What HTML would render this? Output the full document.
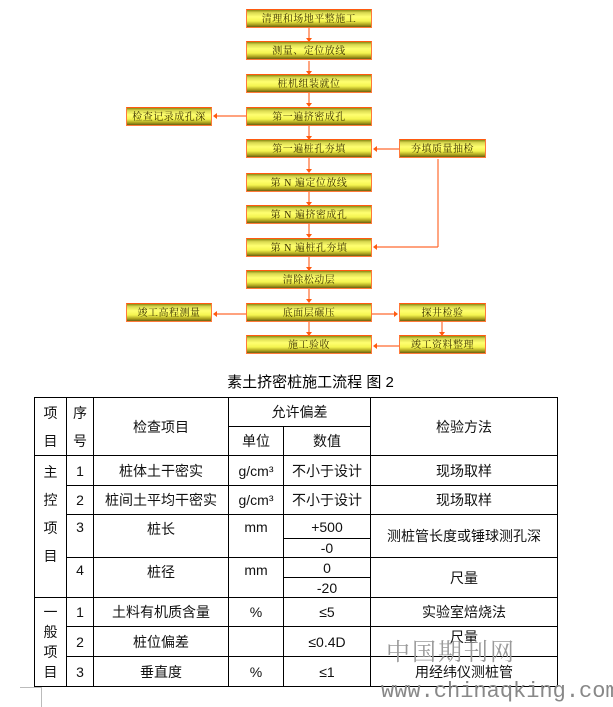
<!DOCTYPE html>
<html><head><meta charset="utf-8"><style>
*{margin:0;padding:0;box-sizing:border-box}
body{width:613px;height:704px;background:#fff;position:relative;overflow:hidden;font-family:"Liberation Sans","Noto Sans CJK SC",sans-serif}
.b{position:absolute;height:19px;border:1px solid #ff7a3a;border-top-color:#ff5a10;
background:linear-gradient(#8a8a10 0%,#d8d850 15%,#ffff70 40%,#f4f450 65%,#b0a820 85%,#6a6010 100%);
font-family:"Liberation Serif","Noto Serif CJK SC",serif;font-size:10px;color:#3a3000;text-align:center;line-height:19px;letter-spacing:0.5px}
.m{left:246px;width:126px}
.l{left:126px;width:86px}
.r{left:399px;width:87px}
table{position:absolute;left:34px;top:397px;border-collapse:collapse;font-size:14px;color:#111}
td{border:1px solid #000;text-align:center;padding:0;font-family:"Liberation Sans","Noto Sans CJK SC",sans-serif}
.cap{position:absolute;left:0;width:613px;top:371px;text-align:center;font-size:15px;color:#000;padding-left:8px}
</style></head><body>
<svg width="613" height="370" style="position:absolute;left:0;top:0" stroke="#ff6a30" fill="#ff5a10">
<g stroke-width="1.2">
<line x1="309" y1="28" x2="309" y2="39"/><line x1="309" y1="61" x2="309" y2="72"/>
<line x1="309" y1="93" x2="309" y2="104"/><line x1="309" y1="126" x2="309" y2="137"/>
<line x1="309" y1="158" x2="309" y2="170"/><line x1="309" y1="192" x2="309" y2="203"/>
<line x1="309" y1="224" x2="309" y2="235"/><line x1="309" y1="257" x2="309" y2="268"/>
<line x1="309" y1="289" x2="309" y2="300"/><line x1="309" y1="322" x2="309" y2="333"/>
<line x1="246" y1="116" x2="216" y2="116"/>
<line x1="399" y1="149" x2="376" y2="149"/>
<line x1="438" y1="159" x2="438" y2="247"/><line x1="438" y1="247" x2="376" y2="247"/>
<line x1="246" y1="314" x2="216" y2="314"/>
<line x1="372" y1="314" x2="395" y2="314"/>
<line x1="442" y1="322" x2="442" y2="333"/>
<line x1="399" y1="346" x2="376" y2="346"/>
</g>
<g stroke="none">
<path d="M306,38h6l-3,4z"/><path d="M306,71h6l-3,4z"/><path d="M306,103h6l-3,4z"/><path d="M306,136h6l-3,4z"/>
<path d="M306,169h6l-3,4z"/><path d="M306,202h6l-3,4z"/><path d="M306,234h6l-3,4z"/><path d="M306,267h6l-3,4z"/>
<path d="M306,299h6l-3,4z"/><path d="M306,332h6l-3,4z"/><path d="M439,332h6l-3,4z"/>
<path d="M217,113v6l-4,-3z"/><path d="M377,146v6l-4,-3z"/><path d="M377,244v6l-4,-3z"/>
<path d="M217,311v6l-4,-3z"/><path d="M394,311v6l4,-3z"/><path d="M377,343v6l-4,-3z"/>
</g>
</svg>
<div class="b m" style="top:9px">清理和场地平整施工</div>
<div class="b m" style="top:41px">测量、定位放线</div>
<div class="b m" style="top:74px">桩机组装就位</div>
<div class="b m" style="top:107px">第一遍挤密成孔</div>
<div class="b l" style="top:107px">检查记录成孔深</div>
<div class="b m" style="top:139px">第一遍桩孔夯填</div>
<div class="b r" style="top:139px">夯填质量抽检</div>
<div class="b m" style="top:173px">第 N 遍定位放线</div>
<div class="b m" style="top:205px">第 N 遍挤密成孔</div>
<div class="b m" style="top:238px">第 N 遍桩孔夯填</div>
<div class="b m" style="top:270px">清除松动层</div>
<div class="b m" style="top:303px">底面层碾压</div>
<div class="b l" style="top:303px">竣工高程测量</div>
<div class="b r" style="top:303px">探井检验</div>
<div class="b m" style="top:335px">施工验收</div>
<div class="b r" style="top:335px">竣工资料整理</div>
<div class="cap">素土挤密桩施工流程 图 2</div>
<table>
<colgroup><col style="width:32px"><col style="width:27px"><col style="width:135px"><col style="width:55px"><col style="width:87px"><col style="width:187px"></colgroup>
<tr style="height:29px"><td rowspan="2" style="line-height:28px">项<br>目</td><td rowspan="2" style="line-height:28px">序<br>号</td><td rowspan="2">检查项目</td><td colspan="2">允许偏差</td><td rowspan="2">检验方法</td></tr>
<tr style="height:29px"><td>单位</td><td>数值</td></tr>
<tr style="height:30px"><td rowspan="6" style="line-height:28px;vertical-align:top;padding-top:2px">主<br>控<br>项<br>目</td><td>1</td><td>桩体土干密实</td><td>g/cm³</td><td>不小于设计</td><td>现场取样</td></tr>
<tr style="height:29px"><td>2</td><td>桩间土平均干密实</td><td>g/cm³</td><td>不小于设计</td><td>现场取样</td></tr>
<tr style="height:24px"><td rowspan="2" style="vertical-align:top;padding-top:4px">3</td><td rowspan="2" style="vertical-align:top;padding-top:4px">桩长</td><td rowspan="2" style="vertical-align:top;padding-top:4px">mm</td><td>+500</td><td rowspan="2">测桩管长度或锤球测孔深</td></tr>
<tr style="height:19px"><td>-0</td></tr>
<tr style="height:20px"><td rowspan="2" style="vertical-align:top;padding-top:4px">4</td><td rowspan="2" style="vertical-align:top;padding-top:4px">桩径</td><td rowspan="2" style="vertical-align:top;padding-top:4px">mm</td><td>0</td><td rowspan="2">尺量</td></tr>
<tr style="height:20px"><td>-20</td></tr>
<tr style="height:29px"><td rowspan="3" style="line-height:20px">一<br>般<br>项<br>目</td><td>1</td><td>土料有机质含量</td><td>%</td><td>≤5</td><td>实验室焙烧法</td></tr>
<tr style="height:30px"><td>2</td><td>桩位偏差</td><td></td><td>≤0.4D</td><td style="vertical-align:top">尺量</td></tr>
<tr style="height:30px"><td>3</td><td>垂直度</td><td>%</td><td>≤1</td><td>用经纬仪测桩管</td></tr>
</table>
<div style="position:absolute;left:386px;top:632px;font-size:24px;color:#9a9a9a;font-family:'Noto Serif CJK SC',serif;letter-spacing:2px">中国期刊网</div>
<div style="position:absolute;left:381px;top:679px;font-size:22px;color:#888;font-family:'Liberation Mono',monospace">www.chinaqking.com</div>
<div style="position:absolute;left:20px;top:687px;width:22px;height:20px;border-top:1px solid #bbb;border-right:1px solid #bbb"></div>
</body></html>
